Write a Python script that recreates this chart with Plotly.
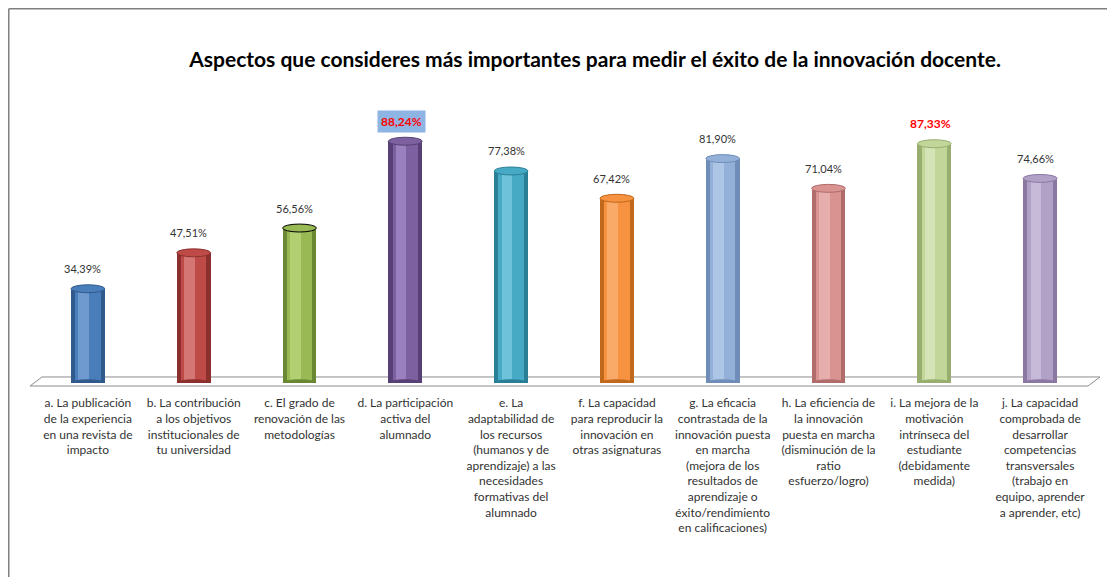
import plotly.graph_objects as go

categories = [
    "a. La publicación<br>de la experiencia<br>en una revista de<br>impacto",
    "b. La contribución<br>a los objetivos<br>institucionales de<br>tu universidad",
    "c. El grado de<br>renovación de las<br>metodologías",
    "d. La participación<br>activa del<br>alumnado",
    "e. La<br>adaptabilidad de<br>los recursos<br>(humanos y de<br>aprendizaje) a las<br>necesidades<br>formativas del<br>alumnado",
    "f. La capacidad<br>para reproducir la<br>innovación en<br>otras asignaturas",
    "g. La eficacia<br>contrastada de la<br>innovación puesta<br>en marcha<br>(mejora de los<br>resultados de<br>aprendizaje o<br>éxito/rendimiento<br>en calificaciones)",
    "h. La eficiencia de<br>la innovación<br>puesta en marcha<br>(disminución de la<br>ratio<br>esfuerzo/logro)",
    "i. La mejora de la<br>motivación<br>intrínseca del<br>estudiante<br>(debidamente<br>medida)",
    "j. La capacidad<br>comprobada de<br>desarrollar<br>competencias<br>transversales<br>(trabajo en<br>equipo, aprender<br>a aprender, etc)",
]
values = [34.39, 47.51, 56.56, 88.24, 77.38, 67.42, 81.90, 71.04, 87.33, 74.66]
value_labels = ["34,39%", "47,51%", "56,56%", "88,24%", "77,38%", "67,42%", "81,90%", "71,04%", "87,33%", "74,66%"]
highlighted = [False, False, False, True, False, False, False, False, True, False]

main_colors = ["#4A7EBB", "#BE4B48", "#98B954", "#7D60A0", "#46AAC5",
               "#F69240", "#93B1D8", "#D99391", "#C2D69A", "#B2A1C7"]
edge_colors = ["#30598C", "#8C302D", "#6A8834", "#564075", "#2A7F97",
               "#C0681C", "#6F8DB8", "#B06C6A", "#98AE6E", "#8A78A3"]
light_colors = ["#6E9AD0", "#D47673", "#B2D072", "#9A80BE", "#6EC2D9",
                "#F9AA68", "#ADC6E6", "#E6AFAD", "#D4E4B6", "#C7BAD9"]

x = list(range(len(categories)))
fig = go.Figure()
fig.add_trace(go.Bar(x=x, y=values, width=0.32, marker=dict(color=edge_colors, line=dict(width=0)),
                     hoverinfo="skip"))
fig.add_trace(go.Bar(x=x, y=values, width=0.24, marker=dict(color=main_colors, line=dict(width=0)),
                     hoverinfo="skip"))
fig.add_trace(go.Bar(x=x, y=values, width=0.10, offset=-0.09, marker=dict(color=light_colors, line=dict(width=0)),
                     hoverinfo="skip"))

shapes = []
# outer border (left and top)
shapes.append(dict(type="line", xref="paper", yref="paper", x0=-0.0248, x1=1.1, y0=1.3659, y1=1.3659,
                   line=dict(color="#808080", width=1.5)))
shapes.append(dict(type="line", xref="paper", yref="paper", x0=-0.0248, x1=-0.0248, y0=1.3659, y1=-1.0,
                   line=dict(color="#808080", width=1.5)))
# floor
shapes.append(dict(type="path", xref="paper", yref="paper",
                   path="M -0.0047,-0.011 L 0.9953,-0.011 L 1.0066,0.022 L 0.0066,0.022 Z",
                   line=dict(color="#8C8C8C", width=1), fillcolor="#FFFFFF", layer="below"))
for i, v in enumerate(values):
    # bottom ellipse
    shapes.append(dict(type="circle", xref="x", yref="y", x0=i - 0.16, x1=i + 0.16, y0=-1.4, y1=1.4,
                       fillcolor=edge_colors[i], line=dict(width=0), layer="above"))
    # top ellipse
    shapes.append(dict(type="circle", xref="x", yref="y", x0=i - 0.16, x1=i + 0.16, y0=v - 1.45, y1=v + 1.45,
                       fillcolor=main_colors[i], line=dict(color="#000000" if i == 2 else edge_colors[i], width=1),
                       layer="above"))

annotations = []
for i, (v, lab, hl) in enumerate(zip(values, value_labels, highlighted)):
    if hl:
        annotations.append(dict(x=i, y=v, xref="x", yref="y", text="<b>" + lab + "</b>", showarrow=False,
                                yshift=20, xshift=-4, yanchor="middle",
                                font=dict(family="Lato", size=12, color="#FF0000"),
                                bgcolor="#8DB4E2" if i == 3 else "rgba(0,0,0,0)", borderpad=3))
    else:
        annotations.append(dict(x=i, y=v, xref="x", yref="y", text=lab, showarrow=False,
                                yshift=20, xshift=-5, yanchor="middle",
                                font=dict(family="Lato", size=11, color="#333333")))

fig.update_layout(
    width=1107, height=569,
    margin=dict(l=27, r=22, t=101, b=194),
    paper_bgcolor="white", plot_bgcolor="white",
    barmode="overlay", showlegend=False, bargap=0,
    title=dict(text="<b>Aspectos que consideres más importantes para medir el éxito de la innovación docente.</b>",
               x=0.5303, xanchor="center", xref="container", y=0.9086, yanchor="middle", yref="container",
               font=dict(family="Lato", size=21, color="#000000")),
    xaxis=dict(tickmode="array", tickvals=x, ticktext=categories, range=[-0.5, 9.5],
               showgrid=False, zeroline=False, showline=False, ticks="outside", ticklen=9,
               tickcolor="rgba(0,0,0,0)", tickangle=0, automargin=False,
               tickfont=dict(family="Lato", size=12, color="#333333")),
    yaxis=dict(range=[0, 100], visible=False, showgrid=False, zeroline=False),
    shapes=shapes, annotations=annotations,
)

fig.write_html("out.html")
